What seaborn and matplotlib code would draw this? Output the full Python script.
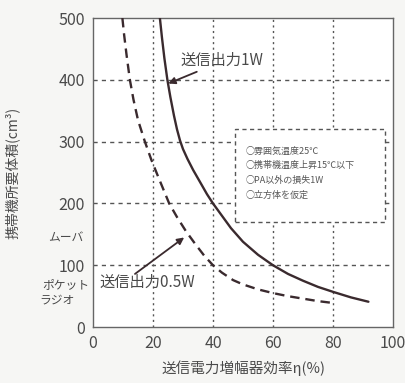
import pandas as pd
import seaborn as sns
import matplotlib.pyplot as plt

# 読み取った値 (効率 %, 体積 cm3)
eff_1w = [22.3, 23.0, 23.8, 24.8, 25.8, 27.0, 28.0, 29.0, 30.0, 31.5, 33.4, 36.0, 38.0,
          40.0, 43.0, 46.0, 50.0, 55.0, 60.0, 65.0, 70.0, 75.0, 80.0, 86.0, 91.8]
vol_1w = [500, 468, 435, 400, 372, 342, 320, 302, 288, 272, 254, 232, 215,
          200, 180, 160, 138, 117, 100, 86, 75, 65, 57, 48, 41]
eff_05w = [9.8, 10.4, 11.2, 12.3, 13.5, 15.0, 17.3, 19.5, 22.0, 25.4, 28.0, 31.0, 34.0,
           37.0, 40.0, 43.0, 46.7, 50.0, 55.0, 60.0, 65.0, 70.0, 75.0, 80.0]
vol_05w = [500, 472, 440, 400, 368, 335, 300, 270, 240, 200, 178, 155, 135,
           116, 100, 88, 76, 69, 61, 55, 50, 46, 42, 39]

xticks = [0, 20, 40, 60, 80, 100]
yticks = [0, 100, 200, 300, 400, 500]
notes = ['○雰囲気温度25℃', '○携帯機温度上昇15℃以下', '○PA以外の損失1W', '○立方体を仮定']

sns.set_style('white')
plt.rcParams['font.family'] = ['Noto Sans CJK JP', 'DejaVu Sans']

txt = '#4a4a4a'
line = '#3a2a2e'
bg = '#f6f6f4'

fig = plt.figure(figsize=(4.06, 3.83), dpi=100, facecolor=bg)
ax = fig.add_axes([0.229, 0.146, 0.739, 0.807])
ax.set_facecolor('white')

df1 = pd.DataFrame({'eff': eff_1w, 'vol': vol_1w})
df2 = pd.DataFrame({'eff': eff_05w, 'vol': vol_05w})

# グリッド
for v in [100, 200, 300, 400]:
    ax.axhline(v, color='#555555', lw=1.0, ls=(0, (3, 3)), zorder=1)
for v in [20, 40, 60, 80]:
    ax.axvline(v, color='#555555', lw=1.0, ls=(0, (1.5, 2.5)), zorder=1)

sns.lineplot(data=df1, x='eff', y='vol', ax=ax, color=line, lw=1.7, zorder=3)
sns.lineplot(data=df2, x='eff', y='vol', ax=ax, color=line, lw=1.7, ls=(0, (4, 2.5)), zorder=3)

ax.set_xlim(0, 100)
ax.set_ylim(0, 500)
ax.set_xticks(xticks)
ax.set_yticks(yticks)
ax.tick_params(direction='in', length=4, width=1.2, color='#444444', labelcolor=txt, labelsize=11.5, pad=6)
for s in ax.spines.values():
    s.set_color('#666666')
    s.set_linewidth(1.0)

ax.set_xlabel('送信電力増幅器効率η(%)', fontsize=10.5, color=txt, labelpad=6)
ax.set_ylabel('携帯機所要体積(cm³)', fontsize=10, color=txt, labelpad=28)

# 注釈
ax.text(29, 432, '送信出力1W', fontsize=11, color=txt, va='center', ha='left', zorder=4)
ax.annotate('', xy=(25.1, 394), xytext=(34.6, 413),
            arrowprops=dict(arrowstyle='-|>', color=line, lw=1.3, shrinkA=0, shrinkB=0,
                            mutation_scale=10))
ax.annotate('', xy=(30.4, 145), xytext=(14, 86),
            arrowprops=dict(arrowstyle='-|>', color=line, lw=1.3, shrinkA=0, shrinkB=0,
                            mutation_scale=10))
ax.text(2.3, 73, '送信出力0.5W', fontsize=11, color=txt, va='center', ha='left', zorder=4)

# 条件の枠
box = plt.Rectangle((47.3, 170), 50, 151, facecolor='white', edgecolor='#555555',
                    lw=1.0, ls=(0, (3, 2.5)), zorder=2)
ax.add_patch(box)
for i, n in enumerate(notes):
    ax.text(51, 285 - i * 24, n, fontsize=6.5, color='#555555', va='center', ha='left', zorder=4)

# 左側の分類
ax.text(-3.3, 144, 'ムーバ', fontsize=8.5, color=txt, ha='right', va='center', clip_on=False)
ax.text(-1.3, 68, 'ポケット', fontsize=8.5, color=txt, ha='right', va='center', clip_on=False)
ax.text(-6, 44, 'ラジオ', fontsize=8.5, color=txt, ha='right', va='center', clip_on=False)

fig.savefig('out.png', dpi=100, facecolor=bg)
